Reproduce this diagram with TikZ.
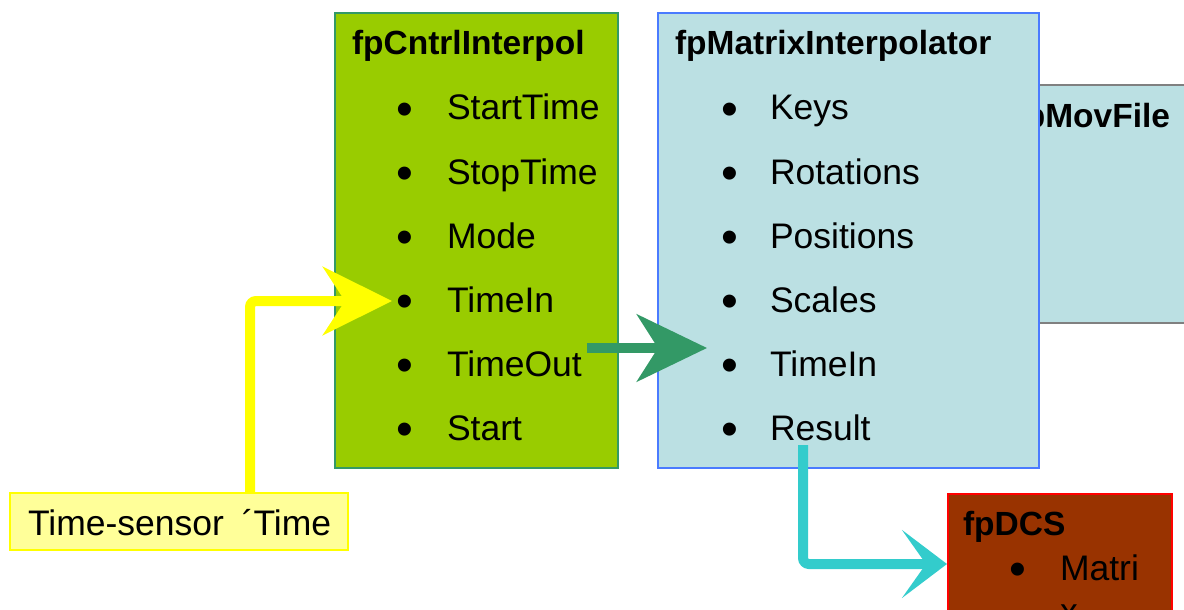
\documentclass[tikz,border=0pt]{standalone}
\usepackage{fontspec}
\setmainfont{Liberation Sans}
\usetikzlibrary{arrows.meta}

\definecolor{c99cc00}{RGB}{153,204,0}
\definecolor{c339966}{RGB}{51,153,102}
\definecolor{cbbe0e3}{RGB}{187,224,227}
\definecolor{c4a7bff}{RGB}{74,123,255}
\definecolor{c808080}{RGB}{128,128,128}
\definecolor{c993300}{RGB}{153,51,0}
\definecolor{cff0000}{RGB}{255,0,0}
\definecolor{cffff99}{RGB}{255,255,153}
\definecolor{cffff00}{RGB}{255,255,0}
\definecolor{c33cccc}{RGB}{51,204,204}

\tikzset{
  itemtext/.style={anchor=base west,font=\fontsize{35.5}{42}\selectfont},
  itembullet/.style={anchor=base,font=\fontsize{48}{50}\selectfont},
  titletext/.style={anchor=base west,font=\fontsize{33.5}{40}\selectfont\bfseries},
  boxline/.style={line width=2pt}
}

\begin{document}
\begin{tikzpicture}[y=1pt, x=1pt, yscale=-1, inner sep=0pt, outer sep=0pt]
\useasboundingbox (0,0) rectangle (1184,610);
\clip (0,0) rectangle (1184,610);

% fpMovFile, partly hidden
\path[draw=c808080,fill=cbbe0e3,boxline] (990,85) rectangle (1200,323);
\node[titletext,anchor=base east] (text6001) at (1170,127) {fpMovFile};

% fpCntrlInterpol
\path[draw=c339966,fill=c99cc00,boxline] (335,13) rectangle (618,468);
\node[titletext] (text6101) at (352,55) {fpCntrlInterpol};
\node[itembullet] (text6111) at (405,125) {\textbullet};
\node[itemtext] (text6121) at (447,120) {StartTime};
\node[itembullet] (text6112) at (405,189) {\textbullet};
\node[itemtext] (text6122) at (447,184) {StopTime};
\node[itembullet] (text6113) at (405,253) {\textbullet};
\node[itemtext] (text6123) at (447,248) {Mode};
\node[itembullet] (text6114) at (405,317) {\textbullet};
\node[itemtext] (text6124) at (447,312) {TimeIn};
\node[itembullet] (text6115) at (405,381) {\textbullet};
\node[itemtext] (text6125) at (447,376) {TimeOut};
\node[itembullet] (text6116) at (405,445) {\textbullet};
\node[itemtext] (text6126) at (447,440) {Start};

% fpMatrixInterpolator
\path[draw=c4a7bff,fill=cbbe0e3,boxline] (658,13) rectangle (1039,468);
\node[titletext] (text6201) at (675,55) {fpMatrixInterpolator};
\node[itembullet] (text6211) at (730,125) {\textbullet};
\node[itemtext] (text6221) at (770,120) {Keys};
\node[itembullet] (text6212) at (730,189) {\textbullet};
\node[itemtext] (text6222) at (770,184) {Rotations};
\node[itembullet] (text6213) at (730,253) {\textbullet};
\node[itemtext] (text6223) at (770,248) {Positions};
\node[itembullet] (text6214) at (730,317) {\textbullet};
\node[itemtext] (text6224) at (770,312) {Scales};
\node[itembullet] (text6215) at (730,381) {\textbullet};
\node[itemtext] (text6225) at (770,376) {TimeIn};
\node[itembullet] (text6216) at (730,445) {\textbullet};
\node[itemtext] (text6226) at (770,440) {Result};

% connectors
\coordinate (path7001) at (250,493);
\coordinate (path7002) at (392,301);
\coordinate (path7101) at (587,348);
\coordinate (path7102) at (707,348);
\coordinate (path7201) at (803,445);
\coordinate (path7202) at (947,564);
\draw[cffff00,line width=10pt,rounded corners=6pt,
  -{Stealth[length=69pt,width=68pt,inset=22pt]}] (path7001) |- (path7002);
\draw[c339966,line width=10pt,
  -{Stealth[length=70pt,width=67pt,inset=21pt]}] (path7101) -- (path7102);
\draw[c33cccc,line width=10pt,rounded corners=6pt,
  -{Stealth[length=45pt,width=68pt,inset=24pt]}] (path7201) |- (path7202);

% Time-sensor
\path[draw=cffff00,fill=cffff99,boxline] (10,493) rectangle (348,550);
\node[itemtext] (text6301) at (28,535) {Time-sensor\hspace{8pt} ´Time};

% fpDCS
\path[draw=cff0000,fill=c993300,boxline] (948,494) rectangle (1172,640);
\node[titletext] (text6401) at (963,535) {fpDCS};
\node[itembullet] (text6411) at (1018,585) {\textbullet};
\node[itemtext] (text6421) at (1060,580) {Matri};
\node[itemtext] (text6422) at (1060,623) {x};

\end{tikzpicture}
\end{document}
